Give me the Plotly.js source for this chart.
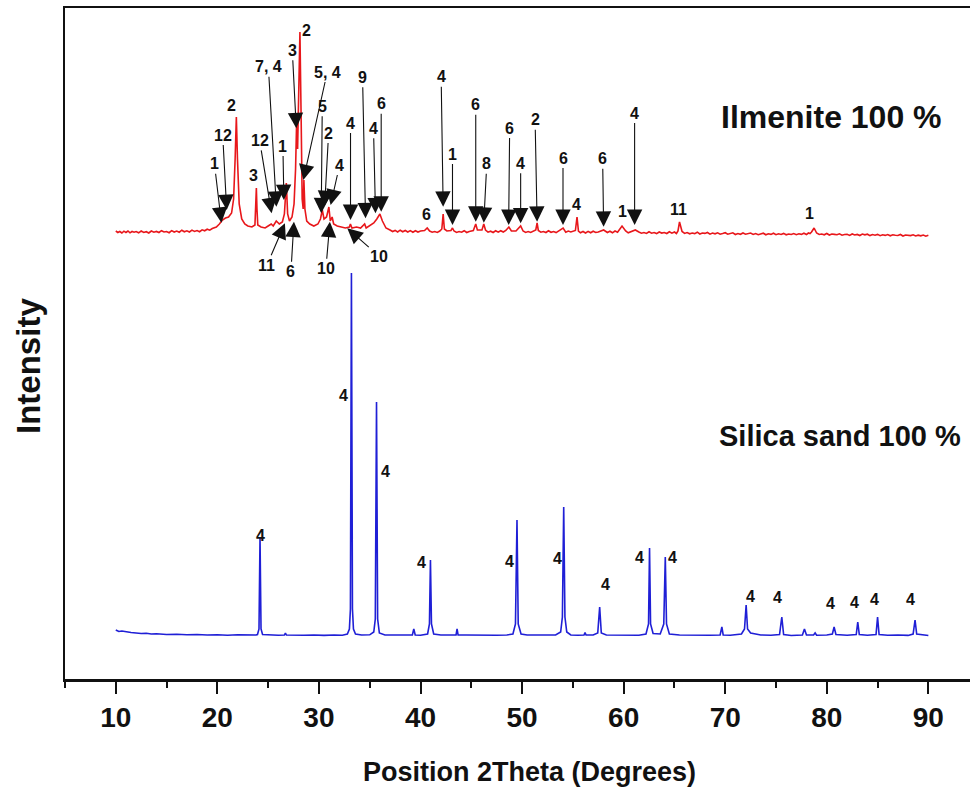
<!DOCTYPE html>
<html>
<head>
<meta charset="utf-8">
<script src="https://cdn.plot.ly/plotly-3.0.1.min.js"></script>
<style>html,body{margin:0;padding:0;background:#fff;}#chart{width:970px;height:790px;}</style>
</head>
<body>
<div id="chart"></div>
<script>
// ---- Data (2Theta in degrees, intensity in arbitrary stacked units) ----
const ilmeniteX = [10.0,10.2,10.4,10.6,10.8,11.0,11.2,11.4,11.6,11.8,12.0,12.25,12.5,12.75,13.0,13.25,13.5,13.75,14.0,14.25,14.5,14.75,15.0,15.25,15.5,15.75,16.0,16.25,16.5,16.75,17.0,17.25,17.5,17.75,18.0,18.25,18.5,18.75,19.0,19.25,19.5,19.9,20.2,20.5,20.8,21.1,21.4,21.6,21.75,21.87,21.98,22.15,22.4,22.7,23.0,23.4,23.7,23.78,23.84,23.9,23.98,24.3,24.7,25.0,25.3,25.5,25.8,26.1,26.4,26.6,26.79,26.92,27.1,27.35,27.55,27.7,27.8,27.9,28.0,28.13,28.25,28.35,28.45,28.52,28.62,28.8,29.1,29.5,29.9,30.15,30.33,30.5,30.75,30.98,31.12,31.3,31.45,31.8,32.2,32.6,33.0,33.1,33.25,33.7,34.1,34.5,34.65,35.0,35.4,35.7,36.0,36.25,36.6,37.0,37.25,37.5,37.75,38.0,38.25,38.5,38.75,39.0,39.25,39.5,39.75,40.0,40.4,40.66,40.9,41.15,41.4,41.65,41.9,42.1,42.23,42.35,42.6,43.0,43.15,43.3,43.55,43.8,44.05,44.3,44.55,44.8,45.2,45.44,45.6,46.05,46.23,46.4,46.65,46.9,47.15,47.4,47.65,47.9,48.15,48.4,48.7,48.95,49.4,49.86,50.1,50.35,50.6,50.85,51.1,51.35,51.48,51.6,51.85,52.1,52.35,52.6,52.85,53.1,53.35,53.6,54.04,54.3,54.55,54.8,55.25,55.41,55.55,55.75,56.0,56.25,56.5,56.75,57.0,57.25,57.5,58.03,58.4,58.65,58.9,59.15,59.4,59.84,60.2,60.45,60.7,61.15,61.5,61.75,62.0,62.25,62.5,62.75,63.0,63.25,63.5,63.75,64.0,64.25,64.5,64.75,65.0,65.2,65.35,65.5,65.75,66.0,66.25,66.5,66.75,67.0,67.25,67.5,67.75,68.0,68.25,68.5,68.75,69.0,69.25,69.5,69.75,70.0,70.25,70.5,70.75,71.0,71.25,71.5,71.75,72.0,72.25,72.5,72.75,73.0,73.25,73.5,73.75,74.0,74.25,74.5,74.75,75.0,75.25,75.5,75.75,76.0,76.25,76.5,76.75,77.0,77.25,77.5,77.75,78.0,78.2,78.35,78.5,78.75,79.0,79.25,79.5,79.75,80.0,80.25,80.5,80.75,81.0,81.25,81.5,81.75,82.0,82.25,82.5,82.75,83.0,83.25,83.5,83.75,84.0,84.25,84.5,84.75,85.0,85.25,85.5,85.75,86.0,86.25,86.5,86.75,87.0,87.25,87.5,87.75,88.0,88.25,88.5,88.75,89.0,89.25,89.5,89.75,90.0];
const ilmeniteY = [448,446.5,447.5,446,447.8,446.5,448,446.2,447.5,446.8,447.5,446.2,448,446.5,447.3,446,448,446.8,447.6,446.5,448.3,447,447.5,446.3,448.4,447,448,446.8,448.8,447.2,448.2,447,448.9,447.6,448.5,447.3,449.2,448.2,449.8,448.8,450.5,452,455,459,461,462,466,480,520,562,520,475,460,455,453,452,454,470,491,470,454,452,451,453,455,453,458,455,457,465,496,465,458,462,475,510,555,530,580,647,560,480,470,499,470,458,455,453,455,460,469,460,462,472,458,462,455,453,452,451,452,455,451,452,451,455,451,453,456,460,465,458,451,449,447.5,448.6,447,448.8,447.2,448.5,447,448.4,446.8,448.3,447,448,448.5,451,448,446.8,447.5,446.6,448,450,465,450,448,448.5,451,448,446.6,447.5,446.8,448.3,446.5,447.5,448.5,455,449,449,455,449,446.8,447.8,446.5,448.2,446.8,448.3,447,448.5,452,448,448,453,448,446.6,447.5,446.5,448,449,456,448.5,446.8,447.5,446.5,448.2,446.7,447.5,446.4,448,451,446.8,448,447,448.5,462,448,446.2,447.5,446,447.6,446.2,447.8,446.5,447,449,446.5,447.8,446.2,448,446.8,453,448,446.2,447,449,447,445.8,446.5,445.6,447.2,445.8,446.5,445.4,447,445.9,446.5,445.5,447.2,445.8,447,445.5,448,457,447.5,445.6,446.5,445.2,446,445.4,446.8,445,446,445.6,446.5,444.8,446,445.2,446.2,444.8,445.5,446.3,444.8,445.5,446.2,444.5,445.5,444.7,446,444.8,445.3,446,444.6,445.5,444.3,445,445.8,444.2,445.2,444.6,445.8,444.3,445.2,444.5,445.6,444.2,445,444.5,445.5,444.3,445.2,444.6,445.8,444.5,446,445.5,447,451,446,444.5,445,444.2,445.5,444,445,444.6,444.2,445.2,443.8,444.5,444.8,443.6,445,444,444.6,443.5,445,444.2,444.8,443.4,444.5,443.8,444.6,443.3,444.2,443.6,444.5,443.2,444.2,443.8,443.5,444.5,443,444,443.6,443.4,444.2,443,443.8,443.2,444,442.8,443.8,443.2,443];

const silicaX = [10.0,10.3,10.6,11.0,11.5,12.0,12.5,13.0,13.5,14.0,15.0,16.0,17.0,18.0,19.0,20.0,21.0,22.0,23.0,23.8,23.95,24.1,24.2,24.3,24.45,25.0,26.0,26.6,26.7,26.8,27.5,28.5,29.5,30.5,31.5,32.3,32.8,33.0,33.1,33.2,33.3,33.4,33.6,34.2,35.0,35.4,35.55,35.67,35.78,35.95,36.5,37.5,38.5,39.2,39.34,39.48,40.0,40.7,40.88,40.98,41.08,41.3,42.0,43.0,43.5,43.6,43.7,44.5,45.5,46.5,47.5,48.5,49.1,49.35,49.5,49.62,49.9,50.5,51.5,52.5,53.3,53.8,53.97,54.1,54.22,54.4,54.8,55.5,56.1,56.2,56.3,57.0,57.45,57.64,57.8,58.3,59.5,60.5,61.5,62.2,62.45,62.55,62.65,62.9,63.6,63.95,64.1,64.22,64.5,65.5,66.5,67.5,68.5,69.5,69.67,69.8,70.5,71.6,71.9,72.06,72.2,72.5,73.5,74.5,75.35,75.57,75.75,76.5,77.6,77.8,78.0,78.7,78.85,79.0,80.0,80.55,80.72,80.9,82.0,82.9,83.05,83.2,84.0,84.85,85.0,85.15,86.0,87.0,88.0,88.5,88.69,88.85,89.5,90.0];
const silicaY = [49,47.5,48,47,46.5,46,45.5,45.8,45,45.2,44.5,44.8,44.2,44.5,44,44.3,43.8,44.2,43.8,44,44.5,50,142,50,44.5,44,43.8,44,46,44,44.2,43.8,44,43.6,44,43.8,45,50,70,406,70,50,45,44,44.2,47,60,277,60,46,44,43.8,44,44,50,44,43.8,45,55,119,55,45,44,43.7,44,50,44,44,43.8,44.2,43.8,44,45,55,159,55,45,44,44.2,43.7,44,47,62,172,62,47,44,43.8,44,46.5,44,44,46,72,46,44,43.8,44,43.8,45,55,131,55,45.5,45,55,122,55,45,44,43.7,44,43.8,44,52,44,43.8,45,50,74,50,46,44,43.8,44.5,62,44.5,43.5,44,50,44,44,46,43.7,44,45,52,44.5,43.8,44.5,57,44.5,43.7,44.5,62,44.5,43.8,44,43.6,45,59,45,43.8,43.5];

const xTickVals = [10,20,30,40,50,60,70,80,90];
const xTickText = ['10','20','30','40','50','60','70','80','90'];

// phase labels on the ilmenite trace with arrows: [text, x, y, ax(px), ay(px)]
const ilmArrowLabels = [
  ['1',20.40,456.3,-7,-59], ['12',20.92,469,-4,-75], ['12',25.34,465.7,-12,-73],
  ['7, 4',25.81,472.3,-8,-140], ['1',26.55,479,-1,-54], ['3',27.77,550.7,-4,-78],
  ['5, 4',28.46,499,24,-108], ['5',30.23,465.7,1,-107], ['2',30.56,473,4,-73],
  ['4',31.15,474,9,-40], ['4',33.11,459,0,-97], ['9',34.59,460.7,-3,-141],
  ['4',35.57,465.7,-2,-85], ['6',36.13,467.3,0,-108],
  ['11',26.65,455.7,-18,42], ['6',27.54,457.3,-3,50], ['10',31.08,457.3,-4,47], ['10',32.79,450.7,32,28],
  ['4',42.23,472.3,-2,-130], ['1',43.15,454,0,-71], ['6',45.44,457.3,0,-117],
  ['8',46.23,456.3,3,-59], ['6',48.68,454,1,-97], ['4',49.86,455.7,0,-60],
  ['2',51.48,457.3,-2,-102], ['6',54.03,454,0,-67], ['6',58.03,452.3,-1,-68], ['4',61.08,454,0,-112]
];
// phase labels without arrows: [text, x, y]
const ilmPlainLabels = [
  ['2',21.38,574], ['3',23.54,504], ['2',28.76,649], ['6',40.56,465],
  ['4',55.34,475], ['1',59.84,467.3], ['11',65.41,469.7], ['1',78.29,465.7]
];
const silicaLabels = [
  ['4',24.26,144], ['4',32.40,283.3], ['4',36.56,207.3], ['4',40.07,116.3], ['4',48.78,118],
  ['4',53.44,120.7], ['4',58.26,94.7], ['4',61.57,121.3], ['4',64.85,121.3], ['4',72.46,82.3],
  ['4',75.14,81.7], ['4',80.35,75.7], ['4',82.68,76.3], ['4',84.68,80], ['4',88.26,80]
];
// sample names: [text, x, y, font size]
const sampleNames = [['Ilmenite 100 %',80.42,562.3,32], ['Silica sand 100 %',81.3,243,29]];

// ---- Build ----
const FONT = 'Liberation Sans, Arial, sans-serif';
const labelFont = {family: FONT, size: 16, color: '#111', weight: 700};

const traces = [
  {x: ilmeniteX, y: ilmeniteY, type: 'scatter', mode: 'lines', name: 'Ilmenite 100 %',
   line: {color: '#e8171b', width: 1.6}},
  {x: silicaX, y: silicaY, type: 'scatter', mode: 'lines', name: 'Silica sand 100 %',
   line: {color: '#1f1fd6', width: 1.6}}
];

const annotations = [];
ilmArrowLabels.forEach(a => annotations.push({
  x: a[1], y: a[2], xref: 'x', yref: 'y', text: a[0], showarrow: true,
  ax: a[3], ay: a[4], arrowhead: 2, arrowsize: 2.8, arrowwidth: 1.1, arrowcolor: '#111',
  standoff: 0, font: labelFont
}));
ilmPlainLabels.concat(silicaLabels).forEach(a => annotations.push({
  x: a[1], y: a[2], xref: 'x', yref: 'y', text: a[0], showarrow: false, font: labelFont
}));
sampleNames.forEach(a => annotations.push({
  x: a[1], y: a[2], xref: 'x', yref: 'y', text: a[0], showarrow: false,
  font: {family: FONT, size: a[3], color: '#111', weight: 700}
}));
// axis titles (placed as annotations to match the reference offsets)
annotations.push({
  x: -0.0398, y: 0.4665, xref: 'paper', yref: 'paper', text: 'Intensity', textangle: -90,
  showarrow: false, xanchor: 'center', yanchor: 'middle',
  font: {family: FONT, size: 33, color: '#111', weight: 700}
});
annotations.push({
  x: 0.5138, y: -0.1386, xref: 'paper', yref: 'paper', text: 'Position 2Theta (Degrees)',
  showarrow: false, xanchor: 'center', yanchor: 'middle',
  font: {family: FONT, size: 27, color: '#111', weight: 700}
});

const layout = {
  width: 970, height: 790,
  margin: {l: 65, r: 0, t: 8, b: 111},
  paper_bgcolor: '#fff', plot_bgcolor: '#fff',
  showlegend: false,
  xaxis: {
    range: [5, 94.1], showgrid: false, zeroline: false,
    showline: true, linecolor: '#111', linewidth: 2.5, mirror: true,
    ticks: 'outside', ticklen: 12, tickwidth: 2, tickcolor: '#111',
    tickvals: xTickVals, ticktext: xTickText,
    tickfont: {family: FONT, size: 28, color: '#111', weight: 700},
    minor: {dtick: 5, tick0: 5, ticks: 'outside', ticklen: 6, tickwidth: 2, tickcolor: '#111', showgrid: false}
  },
  yaxis: {
    range: [0, 671], showgrid: false, zeroline: false,
    showline: true, linecolor: '#111', linewidth: 2.5,
    ticks: '', showticklabels: false
  },
  annotations: annotations
};

Plotly.newPlot('chart', traces, layout, {staticPlot: true, displayModeBar: false});
</script>
</body>
</html>
